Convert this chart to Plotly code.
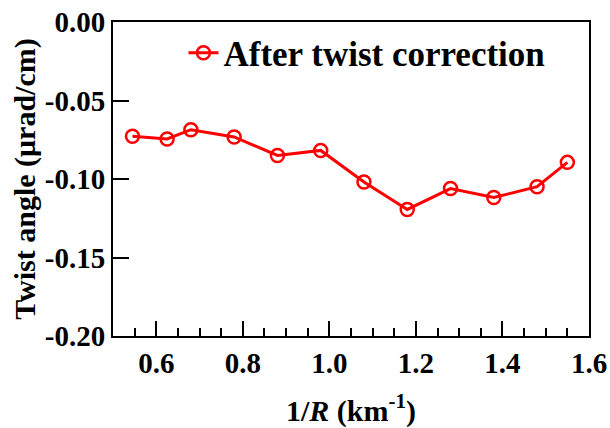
import plotly.graph_objects as go

inv_R = [0.545, 0.625, 0.68, 0.78, 0.88, 0.98, 1.08, 1.18, 1.28, 1.38, 1.48, 1.55]
twist = [-0.0728, -0.0745, -0.0686, -0.0732, -0.0850, -0.0818, -0.1019, -0.1194,
         -0.1061, -0.1118, -0.1049, -0.0894]
x_ticks = [0.6, 0.8, 1.0, 1.2, 1.4, 1.6]
y_ticks = [0.00, -0.05, -0.10, -0.15, -0.20]

FONT = "Liberation Serif"

fig = go.Figure()
fig.add_trace(go.Scatter(
    x=inv_R, y=twist, mode="lines+markers",
    name="<b>After twist correction</b>",
    line=dict(color="#ff0000", width=3),
    marker=dict(symbol="circle-open", size=13, color="#ff0000",
                line=dict(width=2.5, color="#ff0000")),
))

fig.update_layout(
    width=610, height=428,
    margin=dict(l=113, r=21, t=22, b=92, autoexpand=False),
    paper_bgcolor="white", plot_bgcolor="white",
    font=dict(family=FONT, color="black"),
    showlegend=True,
    legend=dict(x=0.148, y=0.995, xanchor="left", yanchor="top",
                bgcolor="rgba(0,0,0,0)", font=dict(size=35, family=FONT)),
)
fig.update_xaxes(
    range=[0.5, 1.6], tickvals=x_ticks, ticktext=[f"<b>{v:.1f}</b>" for v in x_ticks],
    ticks="inside", ticklen=15, tickwidth=2, tickcolor="black",
    minor=dict(dtick=0.05, tick0=0.5, ticks="inside", ticklen=8, tickwidth=1.5, tickcolor="black"),
    showline=True, linecolor="black", linewidth=2, mirror=True,
    showgrid=False, zeroline=False, automargin=False,
    tickfont=dict(size=29, family=FONT), ticklabelstandoff=0,
    title=dict(text="<b>1/<i>R</i> (km<sup>-1</sup>)</b>", font=dict(size=30, family=FONT), standoff=30),
)
fig.update_yaxes(
    range=[-0.2, 0.0], tickvals=y_ticks, ticktext=[f"<b>{v:.2f}</b>" for v in y_ticks],
    ticks="inside", ticklen=16, tickwidth=2, tickcolor="black",
    showline=True, linecolor="black", linewidth=2, mirror=True,
    showgrid=False, zeroline=False, automargin=False,
    tickfont=dict(size=29, family=FONT),
    title=dict(text="<b>Twist angle (μrad/cm)</b>", font=dict(size=30, family=FONT), standoff=0),
)

fig.write_html("out.html")
